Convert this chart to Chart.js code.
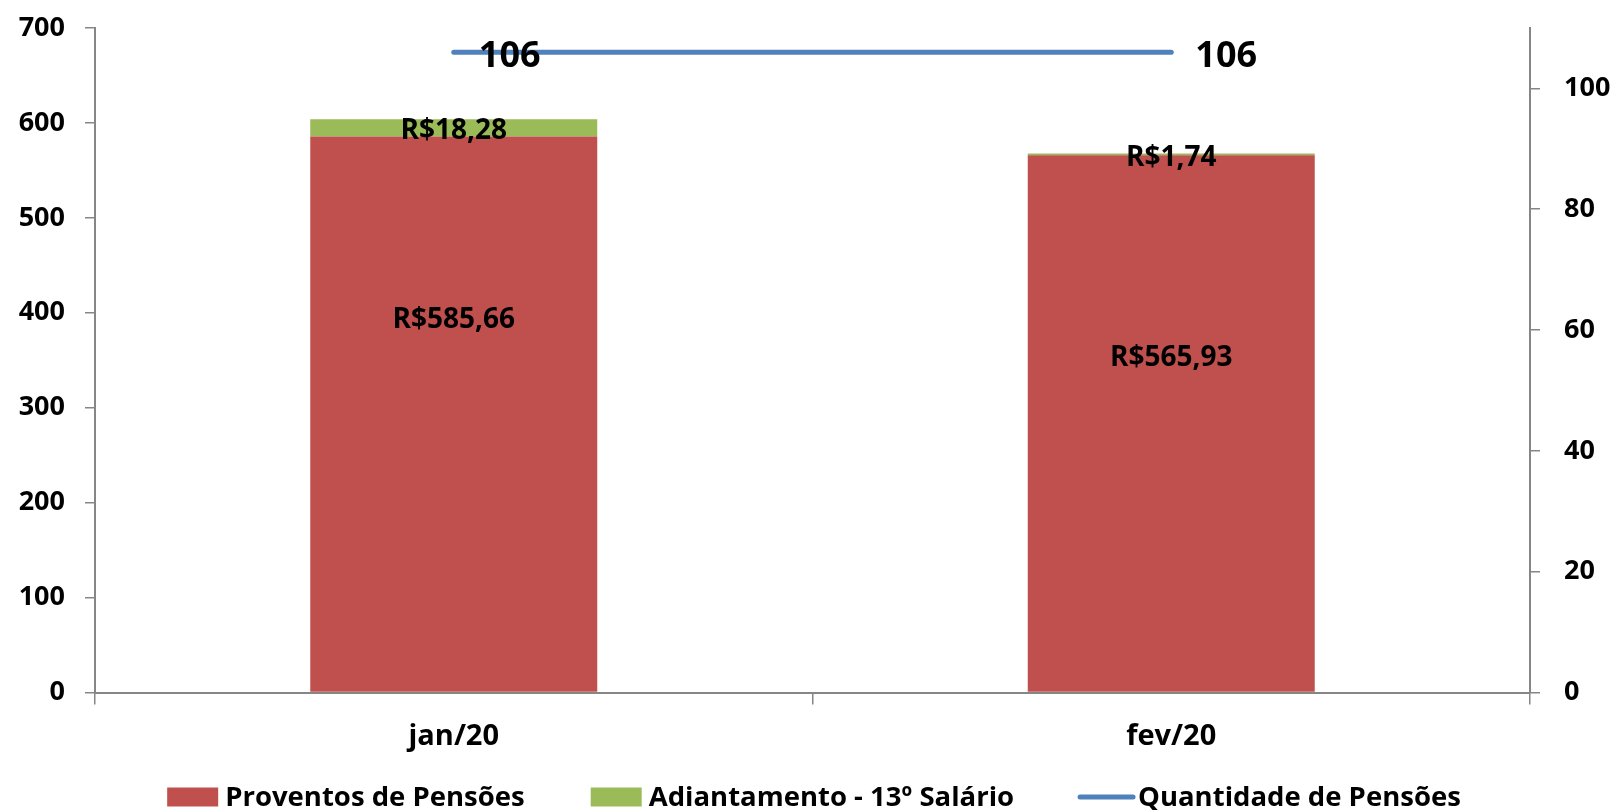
<!DOCTYPE html>
<html>
<head>
<meta charset="utf-8">
<script src="https://cdn.jsdelivr.net/npm/chart.js@4"></script>
<style>
  html, body { margin: 0; padding: 0; background: #fff; }
  #wrap { width: 1616px; height: 810px; }
</style>
</head>
<body>
<div id="wrap"><canvas id="c" width="1616" height="810"></canvas></div>
<script>
// Proventos de pensões por mês (R$) + quantidade de pensões

const months = ['jan/20', 'fev/20'];
const proventos = [585.66, 565.93];
const adiantamento13 = [18.28, 1.74];
const quantidade = [106, 106];

const FONT = '"Open Sans", "DejaVu Sans", sans-serif';
const AXIS_GRAY = '#868686';

const brl = v => 'R$' + v.toFixed(2).replace('.', ',');

// data labels drawn by hand (Excel-like positions)
const labelPlugin = {
  id: 'valueLabels',
  afterDatasetsDraw(chart, args, opts) {
    const ctx = chart.ctx;
    ctx.save();
    ctx.fillStyle = '#000';
    ctx.textAlign = 'center';
    ctx.textBaseline = 'middle';
    chart.data.datasets.forEach((ds, di) => {
      const meta = chart.getDatasetMeta(di);
      const shift = opts.shift[di];
      meta.data.forEach((el, i) => {
        const v = ds.data[i];
        if (ds.type === 'line') {
          ctx.font = 'bold 36px ' + FONT;
          ctx.fillText(String(v), el.x + shift[i][0], el.y + shift[i][1]);
        } else {
          ctx.font = 'bold 28px ' + FONT;
          const cy = (el.y + el.base) / 2;
          ctx.fillText(brl(v), el.x + shift[i][0], cy + shift[i][1]);
        }
      });
    });
    ctx.restore();
  }
};

// legend like Excel: small gap between symbol and text, wide gap between items
const legendPlugin = {
  id: 'xlLegend',
  afterDraw(chart, args, opts) {
    const ctx = chart.ctx;
    ctx.save();
    ctx.font = 'bold ' + opts.size + 'px ' + FONT;
    ctx.textBaseline = 'middle';
    const items = opts.order.map(i => chart.data.datasets[i]);
    const widths = items.map(ds => opts.symbol + opts.gap + ctx.measureText(ds.label).width);
    const total = widths.reduce((a, b) => a + b, 0) + opts.spacing * (items.length - 1);
    let x = opts.center - total / 2;
    const y = opts.y;
    items.forEach((ds, k) => {
      if (ds.type === 'line') {
        ctx.strokeStyle = ds.borderColor;
        ctx.lineWidth = 5;
        ctx.lineCap = 'round';
        ctx.beginPath();
        ctx.moveTo(x, y);
        ctx.lineTo(x + opts.symbol + 2, y);
        ctx.stroke();
      } else {
        ctx.fillStyle = ds.backgroundColor;
        ctx.fillRect(x, y - opts.boxH / 2, opts.symbol, opts.boxH);
      }
      ctx.fillStyle = '#000';
      ctx.fillText(ds.label, x + opts.symbol + opts.gap, y + 1);
      x += widths[k] + opts.spacing;
    });
    ctx.restore();
  }
};

// drop the label-overflow padding Chart.js adds above/below the value axes
const noPad = s => { s.paddingTop = 0; s.paddingBottom = 0; };

new Chart(document.getElementById('c'), {
  type: 'bar',
  data: {
    labels: months,
    datasets: [
      {
        type: 'line', label: 'Quantidade de Pensões', data: quantidade,
        yAxisID: 'y2', borderColor: '#4F81BD', backgroundColor: '#4F81BD',
        borderWidth: 5, borderCapStyle: 'round', pointRadius: 0, order: 0,
      },
      {
        label: 'Proventos de Pensões', data: proventos, yAxisID: 'y',
        backgroundColor: '#C0504D', barPercentage: 0.4, categoryPercentage: 1, order: 1,
      },
      {
        label: 'Adiantamento - 13º Salário', data: adiantamento13, yAxisID: 'y',
        backgroundColor: '#9BBB59', barPercentage: 0.4, categoryPercentage: 1, order: 1,
      },
    ]
  },
  options: {
    responsive: false,
    animation: false,
    layout: { padding: { top: 28, bottom: 0 } },
    plugins: {
      tooltip: { enabled: false },
      legend: { display: false },
      valueLabels: {
        shift: [
          [[56, 5], [55, 5]],
          [[0, -94], [0, -65]],
          [[0, 3], [0, 4]],
        ]
      },
      xlLegend: { order: [1, 2, 0], size: 27.5, symbol: 51, boxH: 19, gap: 7, spacing: 66, center: 814, y: 797 },
    },
    scales: {
      x: {
        stacked: true,
        offset: true,
        grid: { offset: true, drawOnChartArea: false, drawTicks: true, tickLength: 12, color: AXIS_GRAY, lineWidth: 1.5 },
        border: { color: AXIS_GRAY, width: 2 },
        ticks: { color: '#000', padding: 15, font: { family: FONT, size: 29, weight: 'bold' } },
        afterFit(s) { s.height = 117.5; },
      },
      y: {
        stacked: true,
        position: 'left',
        min: 0, max: 700,
        ticks: { stepSize: 100, color: '#000', padding: 20, font: { family: FONT, size: 27, weight: 'bold' } },
        grid: { drawOnChartArea: false, tickLength: 10, color: AXIS_GRAY, lineWidth: 1.5 },
        border: { color: AXIS_GRAY, width: 2 },
        afterFit(s) { s.width = 95; noPad(s); },
      },
      y2: {
        position: 'right',
        min: 0, max: 110,
        ticks: { stepSize: 20, includeBounds: false, color: '#000', padding: 24, font: { family: FONT, size: 27, weight: 'bold' } },
        grid: { drawOnChartArea: false, tickLength: 10, color: AXIS_GRAY, lineWidth: 1.5 },
        border: { color: AXIS_GRAY, width: 2 },
        afterFit(s) { s.width = 86; noPad(s); },
      }
    }
  },
  plugins: [labelPlugin, legendPlugin]
});
</script>
</body>
</html>
